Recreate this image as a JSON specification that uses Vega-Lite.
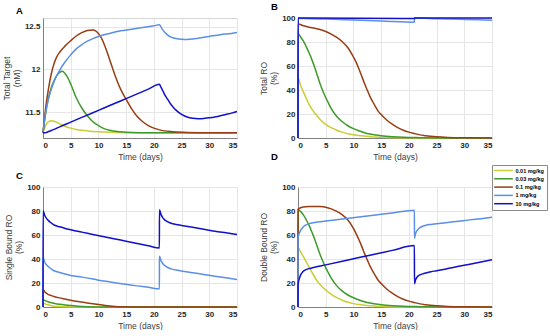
{
  "$schema": "https://vega.github.io/schema/vega-lite/v6.json",
  "padding": {"left": 1, "top": 1, "right": 0, "bottom": 0},
  "background": "white",
  "config": {
    "font": "Liberation Sans",
    "view": {"stroke": "#d6d6d6"},
    "axis": {
      "labelFont": "Liberation Sans", "labelFontSize": 8, "labelFontWeight": "bold", "labelColor": "#262626",
      "titleFont": "Liberation Sans", "titleFontSize": 8.5, "titleFontWeight": "normal", "titleColor": "#404040",
      "titleLineHeight": 10, "domainColor": "#808080", "gridColor": "#e6e6e6", "ticks": false,
      "labelPadding": 3, "titlePadding": 3
    },
    "axisX": {"labelPadding": 3, "titlePadding": 3},
    "title": {"font": "Liberation Sans", "fontSize": 9.5, "fontWeight": "bold", "color": "#000000", "anchor": "start", "frame": "group", "dx": -27, "offset": 3},
    "line": {"strokeWidth": 1.5, "interpolate": "monotone"}
  },
  "datasets": {
    "A": [
      {"dose":"0.01 mg/kg","day":0,"value":11.26},{"dose":"0.01 mg/kg","day":0.5,"value":11.35},{"dose":"0.01 mg/kg","day":1,"value":11.39},{"dose":"0.01 mg/kg","day":1.5,"value":11.4},{"dose":"0.01 mg/kg","day":2,"value":11.395},{"dose":"0.01 mg/kg","day":3,"value":11.365},{"dose":"0.01 mg/kg","day":4,"value":11.335},{"dose":"0.01 mg/kg","day":5,"value":11.315},{"dose":"0.01 mg/kg","day":6,"value":11.3},{"dose":"0.01 mg/kg","day":7,"value":11.29},{"dose":"0.01 mg/kg","day":8,"value":11.283},{"dose":"0.01 mg/kg","day":10,"value":11.273},{"dose":"0.01 mg/kg","day":12,"value":11.267},{"dose":"0.01 mg/kg","day":15,"value":11.262},{"dose":"0.01 mg/kg","day":20,"value":11.26},{"dose":"0.01 mg/kg","day":35,"value":11.26},
      {"dose":"0.03 mg/kg","day":0,"value":11.26},{"dose":"0.03 mg/kg","day":0.5,"value":11.5},{"dose":"0.03 mg/kg","day":1,"value":11.67},{"dose":"0.03 mg/kg","day":1.5,"value":11.79},{"dose":"0.03 mg/kg","day":2,"value":11.87},{"dose":"0.03 mg/kg","day":2.5,"value":11.93},{"dose":"0.03 mg/kg","day":3,"value":11.965},{"dose":"0.03 mg/kg","day":3.5,"value":11.98},{"dose":"0.03 mg/kg","day":4,"value":11.95},{"dose":"0.03 mg/kg","day":4.5,"value":11.9},{"dose":"0.03 mg/kg","day":5,"value":11.83},{"dose":"0.03 mg/kg","day":6,"value":11.67},{"dose":"0.03 mg/kg","day":7,"value":11.55},{"dose":"0.03 mg/kg","day":8,"value":11.46},{"dose":"0.03 mg/kg","day":9,"value":11.39},{"dose":"0.03 mg/kg","day":10,"value":11.345},{"dose":"0.03 mg/kg","day":11,"value":11.31},{"dose":"0.03 mg/kg","day":12,"value":11.29},{"dose":"0.03 mg/kg","day":13,"value":11.278},{"dose":"0.03 mg/kg","day":15,"value":11.267},{"dose":"0.03 mg/kg","day":18,"value":11.262},{"dose":"0.03 mg/kg","day":22,"value":11.26},{"dose":"0.03 mg/kg","day":35,"value":11.26},
      {"dose":"0.1 mg/kg","day":0,"value":11.26},{"dose":"0.1 mg/kg","day":0.5,"value":11.56},{"dose":"0.1 mg/kg","day":1,"value":11.78},{"dose":"0.1 mg/kg","day":1.5,"value":11.95},{"dose":"0.1 mg/kg","day":2,"value":12.07},{"dose":"0.1 mg/kg","day":2.5,"value":12.15},{"dose":"0.1 mg/kg","day":3,"value":12.2},{"dose":"0.1 mg/kg","day":4,"value":12.275},{"dose":"0.1 mg/kg","day":5,"value":12.335},{"dose":"0.1 mg/kg","day":6,"value":12.39},{"dose":"0.1 mg/kg","day":7,"value":12.43},{"dose":"0.1 mg/kg","day":8,"value":12.455},{"dose":"0.1 mg/kg","day":9,"value":12.46},{"dose":"0.1 mg/kg","day":9.5,"value":12.45},{"dose":"0.1 mg/kg","day":10,"value":12.42},{"dose":"0.1 mg/kg","day":10.5,"value":12.37},{"dose":"0.1 mg/kg","day":11,"value":12.3},{"dose":"0.1 mg/kg","day":12,"value":12.12},{"dose":"0.1 mg/kg","day":13,"value":11.93},{"dose":"0.1 mg/kg","day":14,"value":11.77},{"dose":"0.1 mg/kg","day":15,"value":11.65},{"dose":"0.1 mg/kg","day":16,"value":11.54},{"dose":"0.1 mg/kg","day":17,"value":11.45},{"dose":"0.1 mg/kg","day":18,"value":11.39},{"dose":"0.1 mg/kg","day":19,"value":11.345},{"dose":"0.1 mg/kg","day":20,"value":11.315},{"dose":"0.1 mg/kg","day":21,"value":11.295},{"dose":"0.1 mg/kg","day":23,"value":11.275},{"dose":"0.1 mg/kg","day":26,"value":11.265},{"dose":"0.1 mg/kg","day":30,"value":11.26},{"dose":"0.1 mg/kg","day":35,"value":11.26},
      {"dose":"1 mg/kg","day":0,"value":11.26},{"dose":"1 mg/kg","day":0.3,"value":11.42},{"dose":"1 mg/kg","day":0.7,"value":11.58},{"dose":"1 mg/kg","day":1,"value":11.66},{"dose":"1 mg/kg","day":1.5,"value":11.77},{"dose":"1 mg/kg","day":2,"value":11.86},{"dose":"1 mg/kg","day":2.5,"value":11.93},{"dose":"1 mg/kg","day":3,"value":11.99},{"dose":"1 mg/kg","day":4,"value":12.09},{"dose":"1 mg/kg","day":5,"value":12.17},{"dose":"1 mg/kg","day":6,"value":12.24},{"dose":"1 mg/kg","day":7,"value":12.29},{"dose":"1 mg/kg","day":8,"value":12.33},{"dose":"1 mg/kg","day":9,"value":12.36},{"dose":"1 mg/kg","day":10,"value":12.385},{"dose":"1 mg/kg","day":12,"value":12.42},{"dose":"1 mg/kg","day":14,"value":12.45},{"dose":"1 mg/kg","day":16,"value":12.47},{"dose":"1 mg/kg","day":18,"value":12.49},{"dose":"1 mg/kg","day":20,"value":12.51},{"dose":"1 mg/kg","day":21,"value":12.52},{"dose":"1 mg/kg","day":21.5,"value":12.47},{"dose":"1 mg/kg","day":22,"value":12.43},{"dose":"1 mg/kg","day":22.5,"value":12.4},{"dose":"1 mg/kg","day":23,"value":12.38},{"dose":"1 mg/kg","day":24,"value":12.36},{"dose":"1 mg/kg","day":25,"value":12.352},{"dose":"1 mg/kg","day":26,"value":12.35},{"dose":"1 mg/kg","day":27,"value":12.355},{"dose":"1 mg/kg","day":28,"value":12.365},{"dose":"1 mg/kg","day":29,"value":12.375},{"dose":"1 mg/kg","day":30,"value":12.385},{"dose":"1 mg/kg","day":32,"value":12.405},{"dose":"1 mg/kg","day":34,"value":12.42},{"dose":"1 mg/kg","day":35,"value":12.43},
      {"dose":"10 mg/kg","day":0,"value":11.26},{"dose":"10 mg/kg","day":0.5,"value":11.262},{"dose":"10 mg/kg","day":1,"value":11.275},{"dose":"10 mg/kg","day":2,"value":11.3},{"dose":"10 mg/kg","day":3,"value":11.33},{"dose":"10 mg/kg","day":5,"value":11.385},{"dose":"10 mg/kg","day":7,"value":11.44},{"dose":"10 mg/kg","day":9,"value":11.495},{"dose":"10 mg/kg","day":11,"value":11.55},{"dose":"10 mg/kg","day":13,"value":11.605},{"dose":"10 mg/kg","day":15,"value":11.66},{"dose":"10 mg/kg","day":17,"value":11.715},{"dose":"10 mg/kg","day":19,"value":11.77},{"dose":"10 mg/kg","day":21,"value":11.826},{"dose":"10 mg/kg","day":21.3,"value":11.79},{"dose":"10 mg/kg","day":21.7,"value":11.74},{"dose":"10 mg/kg","day":22,"value":11.7},{"dose":"10 mg/kg","day":22.5,"value":11.65},{"dose":"10 mg/kg","day":23,"value":11.6},{"dose":"10 mg/kg","day":23.5,"value":11.56},{"dose":"10 mg/kg","day":24,"value":11.525},{"dose":"10 mg/kg","day":25,"value":11.475},{"dose":"10 mg/kg","day":26,"value":11.445},{"dose":"10 mg/kg","day":27,"value":11.43},{"dose":"10 mg/kg","day":28,"value":11.425},{"dose":"10 mg/kg","day":29,"value":11.428},{"dose":"10 mg/kg","day":30,"value":11.435},{"dose":"10 mg/kg","day":31,"value":11.445},{"dose":"10 mg/kg","day":32,"value":11.46},{"dose":"10 mg/kg","day":33,"value":11.475},{"dose":"10 mg/kg","day":34,"value":11.49},{"dose":"10 mg/kg","day":35,"value":11.51}
    ],
    "B": [
      {"dose":"0.01 mg/kg","day":0,"value":0},{"dose":"0.01 mg/kg","day":0.01,"value":50},{"dose":"0.01 mg/kg","day":0.5,"value":43.5},{"dose":"0.01 mg/kg","day":1,"value":38},{"dose":"0.01 mg/kg","day":1.5,"value":33},{"dose":"0.01 mg/kg","day":2,"value":28},{"dose":"0.01 mg/kg","day":2.5,"value":24},{"dose":"0.01 mg/kg","day":3,"value":20.8},{"dose":"0.01 mg/kg","day":4,"value":15.5},{"dose":"0.01 mg/kg","day":5,"value":11.3},{"dose":"0.01 mg/kg","day":6,"value":8.6},{"dose":"0.01 mg/kg","day":7,"value":6.5},{"dose":"0.01 mg/kg","day":8,"value":4.9},{"dose":"0.01 mg/kg","day":9,"value":3.6},{"dose":"0.01 mg/kg","day":10,"value":2.7},{"dose":"0.01 mg/kg","day":11.5,"value":1.8},{"dose":"0.01 mg/kg","day":13,"value":1.1},{"dose":"0.01 mg/kg","day":15,"value":0.6},{"dose":"0.01 mg/kg","day":18,"value":0.25},{"dose":"0.01 mg/kg","day":22,"value":0.1},{"dose":"0.01 mg/kg","day":35,"value":0},
      {"dose":"0.03 mg/kg","day":0,"value":0},{"dose":"0.03 mg/kg","day":0.01,"value":87},{"dose":"0.03 mg/kg","day":0.5,"value":84},{"dose":"0.03 mg/kg","day":1,"value":80.5},{"dose":"0.03 mg/kg","day":1.5,"value":76},{"dose":"0.03 mg/kg","day":2,"value":71},{"dose":"0.03 mg/kg","day":2.5,"value":65.3},{"dose":"0.03 mg/kg","day":3,"value":59},{"dose":"0.03 mg/kg","day":3.5,"value":52},{"dose":"0.03 mg/kg","day":4,"value":45},{"dose":"0.03 mg/kg","day":4.5,"value":39},{"dose":"0.03 mg/kg","day":5,"value":33.8},{"dose":"0.03 mg/kg","day":5.5,"value":29},{"dose":"0.03 mg/kg","day":6,"value":24.5},{"dose":"0.03 mg/kg","day":7,"value":18},{"dose":"0.03 mg/kg","day":8,"value":13.5},{"dose":"0.03 mg/kg","day":9,"value":10.2},{"dose":"0.03 mg/kg","day":10,"value":7.8},{"dose":"0.03 mg/kg","day":11,"value":6},{"dose":"0.03 mg/kg","day":12,"value":4.4},{"dose":"0.03 mg/kg","day":13,"value":3.3},{"dose":"0.03 mg/kg","day":14,"value":2.5},{"dose":"0.03 mg/kg","day":15,"value":1.9},{"dose":"0.03 mg/kg","day":17,"value":1.1},{"dose":"0.03 mg/kg","day":19,"value":0.6},{"dose":"0.03 mg/kg","day":22,"value":0.3},{"dose":"0.03 mg/kg","day":26,"value":0.1},{"dose":"0.03 mg/kg","day":35,"value":0},
      {"dose":"0.1 mg/kg","day":0,"value":0},{"dose":"0.1 mg/kg","day":0.01,"value":95},{"dose":"0.1 mg/kg","day":1,"value":93.5},{"dose":"0.1 mg/kg","day":2,"value":92.3},{"dose":"0.1 mg/kg","day":3,"value":91.5},{"dose":"0.1 mg/kg","day":4,"value":90.4},{"dose":"0.1 mg/kg","day":5,"value":88.8},{"dose":"0.1 mg/kg","day":6,"value":86.6},{"dose":"0.1 mg/kg","day":7,"value":83.8},{"dose":"0.1 mg/kg","day":8,"value":80.2},{"dose":"0.1 mg/kg","day":9,"value":75.2},{"dose":"0.1 mg/kg","day":10,"value":67.5},{"dose":"0.1 mg/kg","day":10.5,"value":63},{"dose":"0.1 mg/kg","day":11,"value":57.5},{"dose":"0.1 mg/kg","day":11.5,"value":51.5},{"dose":"0.1 mg/kg","day":12,"value":45.5},{"dose":"0.1 mg/kg","day":12.5,"value":39.8},{"dose":"0.1 mg/kg","day":13,"value":34.5},{"dose":"0.1 mg/kg","day":13.5,"value":30},{"dose":"0.1 mg/kg","day":14,"value":26},{"dose":"0.1 mg/kg","day":14.5,"value":22.2},{"dose":"0.1 mg/kg","day":15,"value":19.5},{"dose":"0.1 mg/kg","day":16,"value":15},{"dose":"0.1 mg/kg","day":17,"value":11.5},{"dose":"0.1 mg/kg","day":18,"value":8.6},{"dose":"0.1 mg/kg","day":19,"value":6.5},{"dose":"0.1 mg/kg","day":20,"value":4.9},{"dose":"0.1 mg/kg","day":21,"value":3.7},{"dose":"0.1 mg/kg","day":22,"value":2.6},{"dose":"0.1 mg/kg","day":23,"value":1.9},{"dose":"0.1 mg/kg","day":25,"value":1},{"dose":"0.1 mg/kg","day":27,"value":0.5},{"dose":"0.1 mg/kg","day":30,"value":0.2},{"dose":"0.1 mg/kg","day":35,"value":0.05},
      {"dose":"1 mg/kg","day":0,"value":0},{"dose":"1 mg/kg","day":0.01,"value":99.8},{"dose":"1 mg/kg","day":1,"value":99.6},{"dose":"1 mg/kg","day":5,"value":99.1},{"dose":"1 mg/kg","day":10,"value":98.4},{"dose":"1 mg/kg","day":15,"value":97.6},{"dose":"1 mg/kg","day":21,"value":96.4},{"dose":"1 mg/kg","day":21.01,"value":99.9},{"dose":"1 mg/kg","day":25,"value":99.4},{"dose":"1 mg/kg","day":30,"value":98.8},{"dose":"1 mg/kg","day":35,"value":98.2},
      {"dose":"10 mg/kg","day":0,"value":0},{"dose":"10 mg/kg","day":0.01,"value":100},{"dose":"10 mg/kg","day":21,"value":99.6},{"dose":"10 mg/kg","day":21.01,"value":100},{"dose":"10 mg/kg","day":35,"value":99.9}
    ],
    "C": [
      {"dose":"0.01 mg/kg","day":0,"value":0},{"dose":"0.01 mg/kg","day":0.01,"value":3.6},{"dose":"0.01 mg/kg","day":0.3,"value":2.8},{"dose":"0.01 mg/kg","day":0.6,"value":2.2},{"dose":"0.01 mg/kg","day":0.9,"value":1.8},{"dose":"0.01 mg/kg","day":1.5,"value":1.1},{"dose":"0.01 mg/kg","day":2,"value":0.7},{"dose":"0.01 mg/kg","day":3,"value":0.35},{"dose":"0.01 mg/kg","day":4,"value":0.15},{"dose":"0.01 mg/kg","day":6,"value":0.04},{"dose":"0.01 mg/kg","day":35,"value":0},
      {"dose":"0.03 mg/kg","day":0,"value":0},{"dose":"0.03 mg/kg","day":0.01,"value":6.3},{"dose":"0.03 mg/kg","day":0.3,"value":5.5},{"dose":"0.03 mg/kg","day":0.6,"value":4.9},{"dose":"0.03 mg/kg","day":0.9,"value":4.4},{"dose":"0.03 mg/kg","day":1.5,"value":3.6},{"dose":"0.03 mg/kg","day":2.1,"value":3},{"dose":"0.03 mg/kg","day":3,"value":2.3},{"dose":"0.03 mg/kg","day":4,"value":1.7},{"dose":"0.03 mg/kg","day":5,"value":1.2},{"dose":"0.03 mg/kg","day":6.3,"value":0.7},{"dose":"0.03 mg/kg","day":8,"value":0.3},{"dose":"0.03 mg/kg","day":10,"value":0.1},{"dose":"0.03 mg/kg","day":13,"value":0.02},{"dose":"0.03 mg/kg","day":35,"value":0},
      {"dose":"0.1 mg/kg","day":0,"value":0},{"dose":"0.1 mg/kg","day":0.01,"value":14.6},{"dose":"0.1 mg/kg","day":0.3,"value":12.8},{"dose":"0.1 mg/kg","day":0.6,"value":11.5},{"dose":"0.1 mg/kg","day":0.9,"value":10.6},{"dose":"0.1 mg/kg","day":1.5,"value":9.5},{"dose":"0.1 mg/kg","day":2.1,"value":8.6},{"dose":"0.1 mg/kg","day":3,"value":7.6},{"dose":"0.1 mg/kg","day":4,"value":6.6},{"dose":"0.1 mg/kg","day":5,"value":5.6},{"dose":"0.1 mg/kg","day":6,"value":4.8},{"dose":"0.1 mg/kg","day":7,"value":4.1},{"dose":"0.1 mg/kg","day":8,"value":3.4},{"dose":"0.1 mg/kg","day":9,"value":2.7},{"dose":"0.1 mg/kg","day":10,"value":2},{"dose":"0.1 mg/kg","day":11,"value":1.4},{"dose":"0.1 mg/kg","day":12,"value":0.85},{"dose":"0.1 mg/kg","day":13,"value":0.45},{"dose":"0.1 mg/kg","day":14,"value":0.2},{"dose":"0.1 mg/kg","day":16,"value":0.05},{"dose":"0.1 mg/kg","day":20,"value":0},{"dose":"0.1 mg/kg","day":35,"value":0},
      {"dose":"1 mg/kg","day":0,"value":0},{"dose":"1 mg/kg","day":0.01,"value":41.3},{"dose":"1 mg/kg","day":0.3,"value":37.5},{"dose":"1 mg/kg","day":0.6,"value":35.3},{"dose":"1 mg/kg","day":0.9,"value":33.9},{"dose":"1 mg/kg","day":1.3,"value":32.3},{"dose":"1 mg/kg","day":1.7,"value":31},{"dose":"1 mg/kg","day":2.1,"value":30},{"dose":"1 mg/kg","day":3,"value":28.8},{"dose":"1 mg/kg","day":4,"value":27.5},{"dose":"1 mg/kg","day":5,"value":26.3},{"dose":"1 mg/kg","day":7,"value":24.9},{"dose":"1 mg/kg","day":9,"value":23.3},{"dose":"1 mg/kg","day":11,"value":21.6},{"dose":"1 mg/kg","day":13,"value":20.2},{"dose":"1 mg/kg","day":15,"value":18.9},{"dose":"1 mg/kg","day":17,"value":17.6},{"dose":"1 mg/kg","day":19,"value":16.4},{"dose":"1 mg/kg","day":21,"value":15.2},{"dose":"1 mg/kg","day":21.01,"value":42.3},{"dose":"1 mg/kg","day":21.3,"value":38.5},{"dose":"1 mg/kg","day":21.6,"value":36.3},{"dose":"1 mg/kg","day":21.9,"value":34.8},{"dose":"1 mg/kg","day":22.3,"value":33.5},{"dose":"1 mg/kg","day":22.7,"value":32.5},{"dose":"1 mg/kg","day":23.1,"value":31.8},{"dose":"1 mg/kg","day":24,"value":30.8},{"dose":"1 mg/kg","day":25,"value":30},{"dose":"1 mg/kg","day":27,"value":28.6},{"dose":"1 mg/kg","day":29,"value":27.1},{"dose":"1 mg/kg","day":31,"value":25.7},{"dose":"1 mg/kg","day":33,"value":24.3},{"dose":"1 mg/kg","day":35,"value":22.9},
      {"dose":"10 mg/kg","day":0,"value":0},{"dose":"10 mg/kg","day":0.01,"value":80.2},{"dose":"10 mg/kg","day":0.3,"value":76.5},{"dose":"10 mg/kg","day":0.6,"value":74},{"dose":"10 mg/kg","day":0.9,"value":72.4},{"dose":"10 mg/kg","day":1.3,"value":70.6},{"dose":"10 mg/kg","day":1.7,"value":69.2},{"dose":"10 mg/kg","day":2.1,"value":68.1},{"dose":"10 mg/kg","day":3,"value":66.8},{"dose":"10 mg/kg","day":4,"value":65.5},{"dose":"10 mg/kg","day":5,"value":64.4},{"dose":"10 mg/kg","day":7,"value":62.4},{"dose":"10 mg/kg","day":9,"value":60.5},{"dose":"10 mg/kg","day":11,"value":58.6},{"dose":"10 mg/kg","day":13,"value":56.7},{"dose":"10 mg/kg","day":15,"value":54.8},{"dose":"10 mg/kg","day":17,"value":52.9},{"dose":"10 mg/kg","day":19,"value":51},{"dose":"10 mg/kg","day":21,"value":49.1},{"dose":"10 mg/kg","day":21.01,"value":81},{"dose":"10 mg/kg","day":21.3,"value":77},{"dose":"10 mg/kg","day":21.6,"value":74.5},{"dose":"10 mg/kg","day":21.9,"value":72.8},{"dose":"10 mg/kg","day":22.3,"value":71.5},{"dose":"10 mg/kg","day":22.7,"value":70.5},{"dose":"10 mg/kg","day":23.1,"value":69.8},{"dose":"10 mg/kg","day":24,"value":68.8},{"dose":"10 mg/kg","day":25,"value":68},{"dose":"10 mg/kg","day":27,"value":66.4},{"dose":"10 mg/kg","day":29,"value":64.8},{"dose":"10 mg/kg","day":31,"value":63.2},{"dose":"10 mg/kg","day":33,"value":61.8},{"dose":"10 mg/kg","day":35,"value":60.4}
    ],
    "D": [
      {"dose":"0.01 mg/kg","day":0,"value":0},{"dose":"0.01 mg/kg","day":0.01,"value":49.6},{"dose":"0.01 mg/kg","day":0.5,"value":45.5},{"dose":"0.01 mg/kg","day":1,"value":41.7},{"dose":"0.01 mg/kg","day":1.5,"value":37.5},{"dose":"0.01 mg/kg","day":2,"value":33.3},{"dose":"0.01 mg/kg","day":2.5,"value":29},{"dose":"0.01 mg/kg","day":3,"value":25},{"dose":"0.01 mg/kg","day":3.5,"value":21.3},{"dose":"0.01 mg/kg","day":4,"value":18.5},{"dose":"0.01 mg/kg","day":4.5,"value":16.2},{"dose":"0.01 mg/kg","day":5,"value":14.2},{"dose":"0.01 mg/kg","day":6,"value":10.6},{"dose":"0.01 mg/kg","day":7,"value":7.8},{"dose":"0.01 mg/kg","day":8,"value":5.6},{"dose":"0.01 mg/kg","day":9,"value":3.9},{"dose":"0.01 mg/kg","day":10,"value":2.8},{"dose":"0.01 mg/kg","day":11,"value":2},{"dose":"0.01 mg/kg","day":12,"value":1.4},{"dose":"0.01 mg/kg","day":14,"value":0.7},{"dose":"0.01 mg/kg","day":16,"value":0.3},{"dose":"0.01 mg/kg","day":19,"value":0.1},{"dose":"0.01 mg/kg","day":35,"value":0},
      {"dose":"0.03 mg/kg","day":0,"value":0},{"dose":"0.03 mg/kg","day":0.01,"value":81},{"dose":"0.03 mg/kg","day":0.5,"value":79.5},{"dose":"0.03 mg/kg","day":1,"value":76.5},{"dose":"0.03 mg/kg","day":1.5,"value":72.5},{"dose":"0.03 mg/kg","day":2,"value":68},{"dose":"0.03 mg/kg","day":2.5,"value":62.5},{"dose":"0.03 mg/kg","day":3,"value":56.7},{"dose":"0.03 mg/kg","day":3.5,"value":50},{"dose":"0.03 mg/kg","day":4,"value":43.5},{"dose":"0.03 mg/kg","day":4.5,"value":38},{"dose":"0.03 mg/kg","day":5,"value":32.8},{"dose":"0.03 mg/kg","day":5.5,"value":28.3},{"dose":"0.03 mg/kg","day":6,"value":24},{"dose":"0.03 mg/kg","day":7,"value":17.6},{"dose":"0.03 mg/kg","day":8,"value":13.2},{"dose":"0.03 mg/kg","day":9,"value":10},{"dose":"0.03 mg/kg","day":10,"value":7.7},{"dose":"0.03 mg/kg","day":11,"value":5.9},{"dose":"0.03 mg/kg","day":12,"value":4.4},{"dose":"0.03 mg/kg","day":13,"value":3.3},{"dose":"0.03 mg/kg","day":14,"value":2.5},{"dose":"0.03 mg/kg","day":15,"value":1.9},{"dose":"0.03 mg/kg","day":17,"value":1.1},{"dose":"0.03 mg/kg","day":19,"value":0.6},{"dose":"0.03 mg/kg","day":22,"value":0.3},{"dose":"0.03 mg/kg","day":26,"value":0.1},{"dose":"0.03 mg/kg","day":35,"value":0},
      {"dose":"0.1 mg/kg","day":0,"value":0},{"dose":"0.1 mg/kg","day":0.01,"value":81.5},{"dose":"0.1 mg/kg","day":0.3,"value":82.3},{"dose":"0.1 mg/kg","day":0.6,"value":82.9},{"dose":"0.1 mg/kg","day":1,"value":83.3},{"dose":"0.1 mg/kg","day":2,"value":83.7},{"dose":"0.1 mg/kg","day":3,"value":83.8},{"dose":"0.1 mg/kg","day":4,"value":83.7},{"dose":"0.1 mg/kg","day":5,"value":83.2},{"dose":"0.1 mg/kg","day":6,"value":81.8},{"dose":"0.1 mg/kg","day":7,"value":79.7},{"dose":"0.1 mg/kg","day":8,"value":76.8},{"dose":"0.1 mg/kg","day":9,"value":72.5},{"dose":"0.1 mg/kg","day":10,"value":65.5},{"dose":"0.1 mg/kg","day":10.5,"value":61},{"dose":"0.1 mg/kg","day":11,"value":56},{"dose":"0.1 mg/kg","day":11.5,"value":50.5},{"dose":"0.1 mg/kg","day":12,"value":44.6},{"dose":"0.1 mg/kg","day":12.5,"value":39.3},{"dose":"0.1 mg/kg","day":13,"value":34},{"dose":"0.1 mg/kg","day":13.5,"value":29.7},{"dose":"0.1 mg/kg","day":14,"value":25.8},{"dose":"0.1 mg/kg","day":14.5,"value":22.1},{"dose":"0.1 mg/kg","day":15,"value":19.5},{"dose":"0.1 mg/kg","day":16,"value":15},{"dose":"0.1 mg/kg","day":17,"value":11.5},{"dose":"0.1 mg/kg","day":18,"value":8.6},{"dose":"0.1 mg/kg","day":19,"value":6.5},{"dose":"0.1 mg/kg","day":20,"value":4.9},{"dose":"0.1 mg/kg","day":21,"value":3.7},{"dose":"0.1 mg/kg","day":22,"value":2.6},{"dose":"0.1 mg/kg","day":23,"value":1.9},{"dose":"0.1 mg/kg","day":25,"value":1},{"dose":"0.1 mg/kg","day":27,"value":0.5},{"dose":"0.1 mg/kg","day":30,"value":0.2},{"dose":"0.1 mg/kg","day":35,"value":0.05},
      {"dose":"1 mg/kg","day":0,"value":0},{"dose":"1 mg/kg","day":0.01,"value":57.3},{"dose":"1 mg/kg","day":0.2,"value":61},{"dose":"1 mg/kg","day":0.5,"value":64},{"dose":"1 mg/kg","day":0.9,"value":66.5},{"dose":"1 mg/kg","day":1.3,"value":68},{"dose":"1 mg/kg","day":2,"value":69.5},{"dose":"1 mg/kg","day":3,"value":70.4},{"dose":"1 mg/kg","day":5,"value":71.6},{"dose":"1 mg/kg","day":8,"value":73.3},{"dose":"1 mg/kg","day":11,"value":75},{"dose":"1 mg/kg","day":14,"value":76.7},{"dose":"1 mg/kg","day":17,"value":78.4},{"dose":"1 mg/kg","day":21,"value":80.7},{"dose":"1 mg/kg","day":21.01,"value":57.3},{"dose":"1 mg/kg","day":21.2,"value":61},{"dose":"1 mg/kg","day":21.5,"value":63.8},{"dose":"1 mg/kg","day":21.9,"value":65.8},{"dose":"1 mg/kg","day":22.5,"value":67.3},{"dose":"1 mg/kg","day":23.1,"value":68.2},{"dose":"1 mg/kg","day":24,"value":68.8},{"dose":"1 mg/kg","day":25,"value":69.3},{"dose":"1 mg/kg","day":27,"value":70.4},{"dose":"1 mg/kg","day":29,"value":71.5},{"dose":"1 mg/kg","day":31,"value":72.6},{"dose":"1 mg/kg","day":33,"value":73.6},{"dose":"1 mg/kg","day":35,"value":74.7},
      {"dose":"10 mg/kg","day":0,"value":0},{"dose":"10 mg/kg","day":0.01,"value":18.7},{"dose":"10 mg/kg","day":0.2,"value":23},{"dose":"10 mg/kg","day":0.5,"value":27},{"dose":"10 mg/kg","day":0.9,"value":29.5},{"dose":"10 mg/kg","day":1.3,"value":30.8},{"dose":"10 mg/kg","day":2,"value":32},{"dose":"10 mg/kg","day":3,"value":33.2},{"dose":"10 mg/kg","day":5,"value":35.1},{"dose":"10 mg/kg","day":8,"value":38.1},{"dose":"10 mg/kg","day":11,"value":41.2},{"dose":"10 mg/kg","day":14,"value":44.2},{"dose":"10 mg/kg","day":17,"value":47.2},{"dose":"10 mg/kg","day":21,"value":51.2},{"dose":"10 mg/kg","day":21.01,"value":19.3},{"dose":"10 mg/kg","day":21.2,"value":22.5},{"dose":"10 mg/kg","day":21.5,"value":25},{"dose":"10 mg/kg","day":21.9,"value":26.5},{"dose":"10 mg/kg","day":22.5,"value":27.6},{"dose":"10 mg/kg","day":23.1,"value":28.4},{"dose":"10 mg/kg","day":24,"value":29.4},{"dose":"10 mg/kg","day":25,"value":30.2},{"dose":"10 mg/kg","day":27,"value":32},{"dose":"10 mg/kg","day":29,"value":33.9},{"dose":"10 mg/kg","day":31,"value":35.7},{"dose":"10 mg/kg","day":33,"value":37.5},{"dose":"10 mg/kg","day":35,"value":39.4}
    ]
  },
  "columns": 2,
  "bounds": "flush",
  "spacing": {"row": 49, "column": 61},
  "resolve": {"scale": {"color": "independent", "x": "independent", "y": "independent"}, "legend": {"color": "independent"}},
  "concat": [
    {
      "width": 194, "height": 120,
      "title": {"text": "A"},
      "data": {"name": "A"},
      "mark": {"type": "line"},
      "encoding": {
        "x": {"field": "day", "type": "quantitative", "scale": {"domain": [0, 35], "nice": false}, "axis": {"values": [0,5,10,15,20,25,30,35], "title": "Time (days)"}},
        "y": {"field": "value", "type": "quantitative", "scale": {"domain": [11.2, 12.6], "nice": false, "zero": false}, "axis": {"values": [11.5, 12, 12.5], "labelExpr": "'' + datum.value", "title": ["Total Target", "(nM)"]}},
        "color": {"field": "dose", "type": "nominal", "scale": {"domain": ["0.01 mg/kg","0.03 mg/kg","0.1 mg/kg","1 mg/kg","10 mg/kg"], "range": ["#cccc33","#3d9a2b","#993d14","#5b8fe6","#1010c8"]}, "legend": null}
      }
    },
    {
      "width": 194, "height": 120,
      "title": {"text": "B"},
      "data": {"name": "B"},
      "mark": {"type": "line"},
      "encoding": {
        "x": {"field": "day", "type": "quantitative", "scale": {"domain": [0, 35], "nice": false}, "axis": {"values": [0,5,10,15,20,25,30,35], "title": "Time (days)"}},
        "y": {"field": "value", "type": "quantitative", "scale": {"domain": [0, 100], "nice": false}, "axis": {"values": [0,20,40,60,80,100], "title": ["Total RO", "(%)"]}},
        "color": {"field": "dose", "type": "nominal", "scale": {"domain": ["0.01 mg/kg","0.03 mg/kg","0.1 mg/kg","1 mg/kg","10 mg/kg"], "range": ["#cccc33","#3d9a2b","#993d14","#5b8fe6","#1010c8"]}, "legend": null}
      }
    },
    {
      "width": 194, "height": 120,
      "title": {"text": "C"},
      "data": {"name": "C"},
      "mark": {"type": "line"},
      "encoding": {
        "x": {"field": "day", "type": "quantitative", "scale": {"domain": [0, 35], "nice": false}, "axis": {"values": [0,5,10,15,20,25,30,35], "title": "Time (days)"}},
        "y": {"field": "value", "type": "quantitative", "scale": {"domain": [0, 100], "nice": false}, "axis": {"values": [0,20,40,60,80,100], "title": ["Single Bound RO", "(%)"]}},
        "color": {"field": "dose", "type": "nominal", "scale": {"domain": ["0.01 mg/kg","0.03 mg/kg","0.1 mg/kg","1 mg/kg","10 mg/kg"], "range": ["#cccc33","#3d9a2b","#993d14","#5b8fe6","#1010c8"]}, "legend": null}
      }
    },
    {
      "width": 194, "height": 120,
      "title": {"text": "D"},
      "data": {"name": "D"},
      "mark": {"type": "line"},
      "encoding": {
        "x": {"field": "day", "type": "quantitative", "scale": {"domain": [0, 35], "nice": false}, "axis": {"values": [0,5,10,15,20,25,30,35], "title": "Time (days)"}},
        "y": {"field": "value", "type": "quantitative", "scale": {"domain": [0, 100], "nice": false}, "axis": {"values": [0,20,40,60,80,100], "title": ["Double Bound RO", "(%)"]}},
        "color": {"field": "dose", "type": "nominal", "scale": {"domain": ["0.01 mg/kg","0.03 mg/kg","0.1 mg/kg","1 mg/kg","10 mg/kg"], "range": ["#cccc33","#3d9a2b","#993d14","#5b8fe6","#1010c8"]},
          "legend": {"orient": "none", "legendX": 194, "legendY": -22, "title": null, "symbolType": "M-5,0H5", "symbolSize": 14, "symbolStrokeWidth": 1.5, "symbolOffset": 6, "labelFont": "Liberation Sans", "labelFontSize": 5.5, "labelFontWeight": "bold", "labelColor": "#000000", "labelOffset": 9, "rowPadding": 1.3, "padding": 2.5, "strokeColor": "#8c8c8c", "fillColor": "#ffffff"}}
      }
    }
  ]
}
